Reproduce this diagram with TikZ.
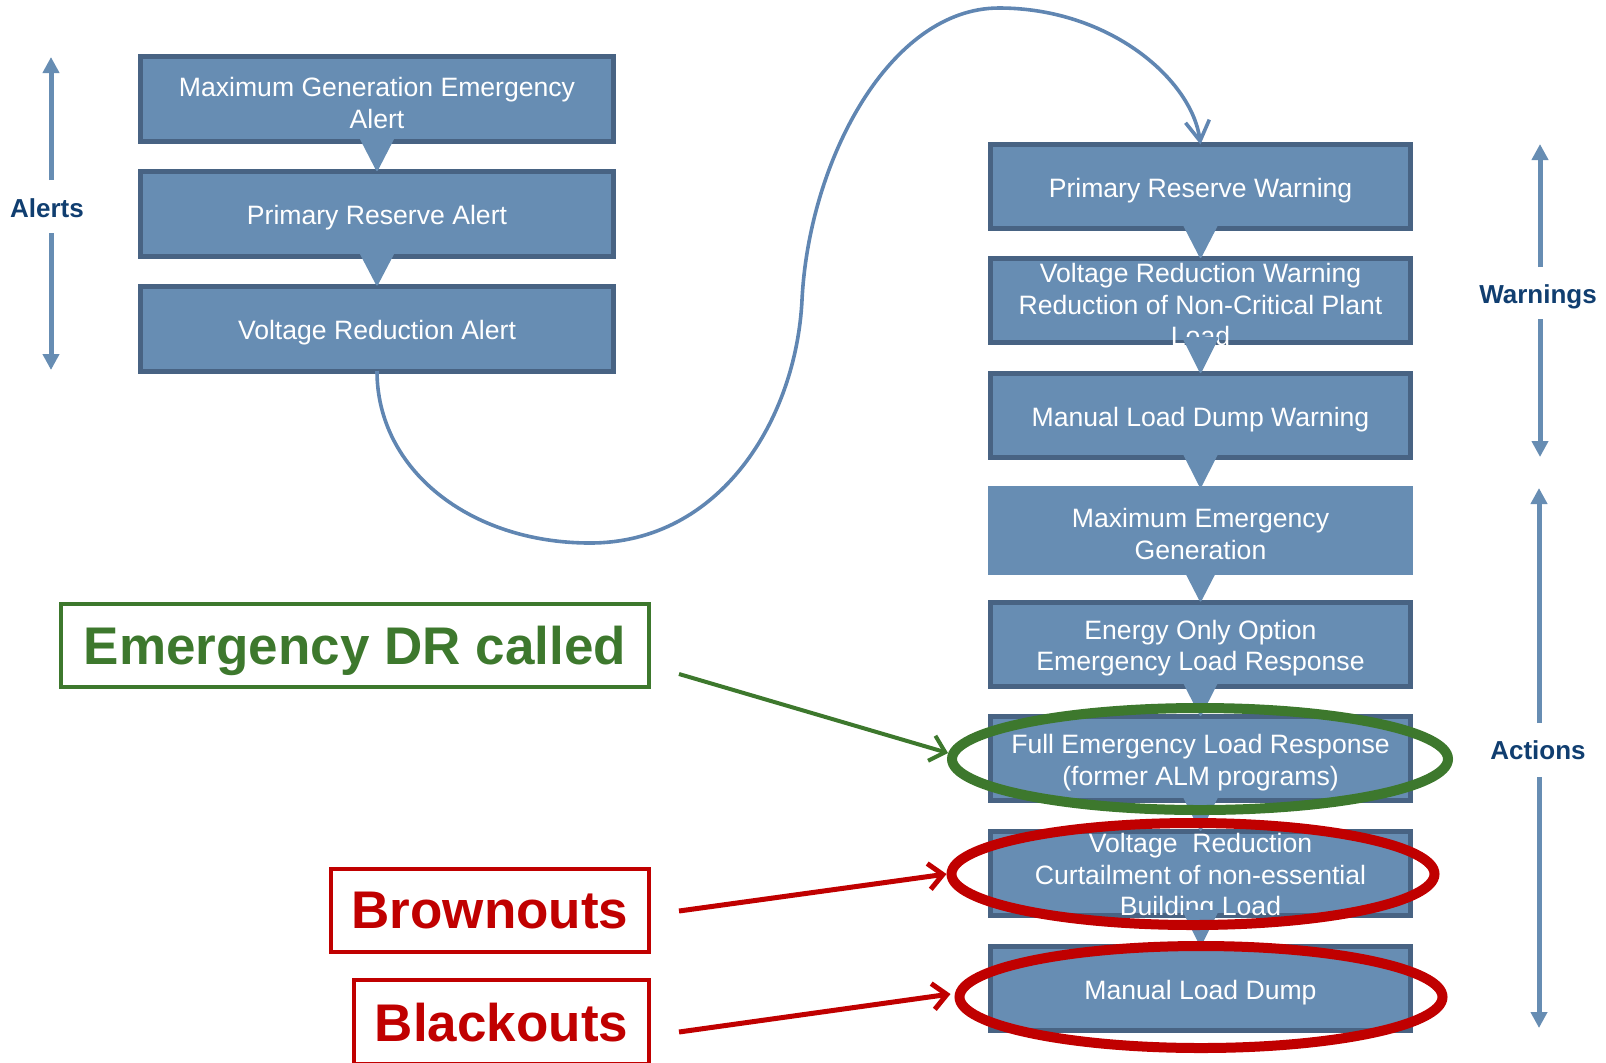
\documentclass[tikz,border=0pt]{standalone}
\usepackage{fontspec}
\setmainfont{Liberation Sans}
\usetikzlibrary{arrows.meta,shapes.geometric,calc}
\definecolor{boxfill}{RGB}{103,141,179}
\definecolor{boxline}{RGB}{72,99,131}
\definecolor{curvecol}{RGB}{96,134,178}
\definecolor{lblblue}{RGB}{16,62,112}
\definecolor{drgreen}{RGB}{61,120,45}
\definecolor{drred}{RGB}{192,0,0}
\begin{document}
\begin{tikzpicture}[x=0.5pt,y=-0.5pt,
  stepbox/.style={draw=boxline,fill=boxfill,line width=2.5pt,minimum width=210pt,minimum height=42pt,inner sep=0pt,outer sep=0pt},
  leftbox/.style={stepbox,minimum width=236.5pt,minimum height=42.5pt},
  boxtext/.style={text=white,font=\fontsize{13.3pt}{15.8pt}\selectfont,align=center,inner sep=0pt,yshift=-2pt},
  tri/.style={fill=boxfill,draw=boxfill,line width=1pt,line join=round},
  sidelbl/.style={text=lblblue,font=\bfseries\fontsize{13pt}{15pt}\selectfont,inner sep=0pt},
  sidearr/.style={draw=boxfill,line width=2.5pt,-{Triangle[length=8pt,width=8pt]}},
  ring/.style={ellipse,draw,line width=5pt,minimum width=248pt,minimum height=51pt,inner sep=0pt},
  callout/.style={draw,line width=2pt,inner sep=0pt,outer sep=0pt,text depth=0pt,font=\bfseries\fontsize{26.5pt}{30pt}\selectfont},
  pointer/.style={line width=2pt,-{Straight Barb[length=7pt,width=13pt]}},
]
\clip (0,0) rectangle (1606,1062);
\useasboundingbox (0,0) rectangle (1606,1062);

% left column
\node[leftbox] (L1) at (377,99) {};
\node[leftbox] (L2) at (377,214) {};
\node[leftbox] (L3) at (377,328.5) {};
\node[boxtext] at (L1) {Maximum Generation Emergency\\Alert};
\node[boxtext] at (L2) {Primary Reserve Alert};
\node[boxtext] at (L3) {Voltage Reduction Alert};

% right column
\node[stepbox] (R1) at (1200.5,186.5) {};
\node[stepbox] (R2) at (1200.5,300.5) {};
\node[stepbox] (R3) at (1200.5,415.5) {};
\node[stepbox,draw=boxfill] (R4) at (1200.5,530) {};
\node[stepbox] (R5) at (1200.5,644) {};
\node[stepbox] (R6) at (1200.5,758.5) {};
\node[stepbox] (R7) at (1200.5,873.5) {};
\node[stepbox] (R8) at (1200.5,988.5) {};
\node[boxtext] at (R1) {Primary Reserve Warning};
\node[boxtext] at (R2) {Voltage Reduction Warning\\Reduction of Non-Critical Plant\\Load};
\node[boxtext] at (R3) {Manual Load Dump Warning};
\node[boxtext] at (R4) {Maximum Emergency\\Generation};
\node[boxtext] at (R5) {Energy Only Option\\Emergency Load Response};
\node[boxtext] at (R6) {Full Emergency Load Response\\(former ALM programs)};
\node[boxtext] at (R7) {Voltage\ \ Reduction\\Curtailment of non-essential\\Building Load};
\node[boxtext] at (R8) {Manual Load Dump};

% step triangles
\foreach \a/\b in {L1/L2,L2/L3,R1/R2,R2/R3,R3/R4,R4/R5,R5/R6,R6/R7,R7/R8}
  \filldraw[tri] ($(\a.south)+(-17,-4.5)$) -- ($(\a.south)+(17,-4.5)$) -- ($(\b.north)+(0,-1.5)$) -- cycle;

% S-shaped connector
\coordinate (c1) at (590,543);
\coordinate (c2) at (802,300);
\coordinate (c3) at (999,8);
\draw[curvecol,line width=1.8pt,-{Straight Barb[length=10pt,width=12pt]}]
  (L3.south) .. controls (377,470) and (470,543) .. (c1)
  .. controls (720,543) and (796,420) .. (c2)
  .. controls (809,160) and (890,8) .. (c3)
  .. controls (1110,8) and (1192,80) .. (R1.north);

% side labels
\node[sidelbl] (AL) at (47,208) {Alerts};
\coordinate (alT) at (51,57);
\coordinate (alA) at (51,180);
\coordinate (alB) at (51,233);
\coordinate (alE) at (51,370);
\draw[sidearr] (alA) -- (alT);
\draw[sidearr] (alB) -- (alE);

\node[sidelbl] (WA) at (1538,297) {Warnings};
\coordinate (waT) at (1540,144);
\coordinate (waA) at (1540,267);
\coordinate (waB) at (1540,319);
\coordinate (waE) at (1540,457);
\draw[sidearr] (waA) -- (waT);
\draw[sidearr] (waB) -- (waE);

\node[sidelbl] (AC) at (1538,750) {Actions};
\coordinate (acT) at (1539,488);
\coordinate (acA) at (1539,723);
\coordinate (acB) at (1539,777);
\coordinate (acE) at (1539,1028);
\draw[sidearr] (acA) -- (acT);
\draw[sidearr] (acB) -- (acE);

% highlight rings
\node[ring,draw=drgreen] (E1) at (1200,759) {};
\node[ring,draw=drred,minimum width=241.5pt] (E2) at (1193,874) {};
\node[ring,draw=drred,minimum width=241.5pt] (E3) at (1201,997) {};

% callouts
\node[callout,draw=drgreen,text=drgreen,minimum width=294pt,minimum height=41.5pt] (DR) at (355,645.5) {Emergency DR called};
\node[callout,draw=drred,text=drred,minimum width=159pt,minimum height=41.5pt] (BR) at (490,910.5) {Brownouts};
\node[callout,draw=drred,text=drred,minimum width=147.5pt,minimum height=42pt] (BL) at (501.5,1022) {Blackouts};

\coordinate (p1) at (679,674);
\coordinate (p2) at (679,911);
\coordinate (p3) at (679,1032);
\draw[pointer,drgreen] (p1) -- ($(E1.west)+(1,-6)$);
\draw[pointer,drred,line width=2.5pt] (p2) -- (E2.west);
\draw[pointer,drred,line width=2.5pt] (p3) -- ($(E3.west)+(-4,-3)$);
\end{tikzpicture}
\end{document}
